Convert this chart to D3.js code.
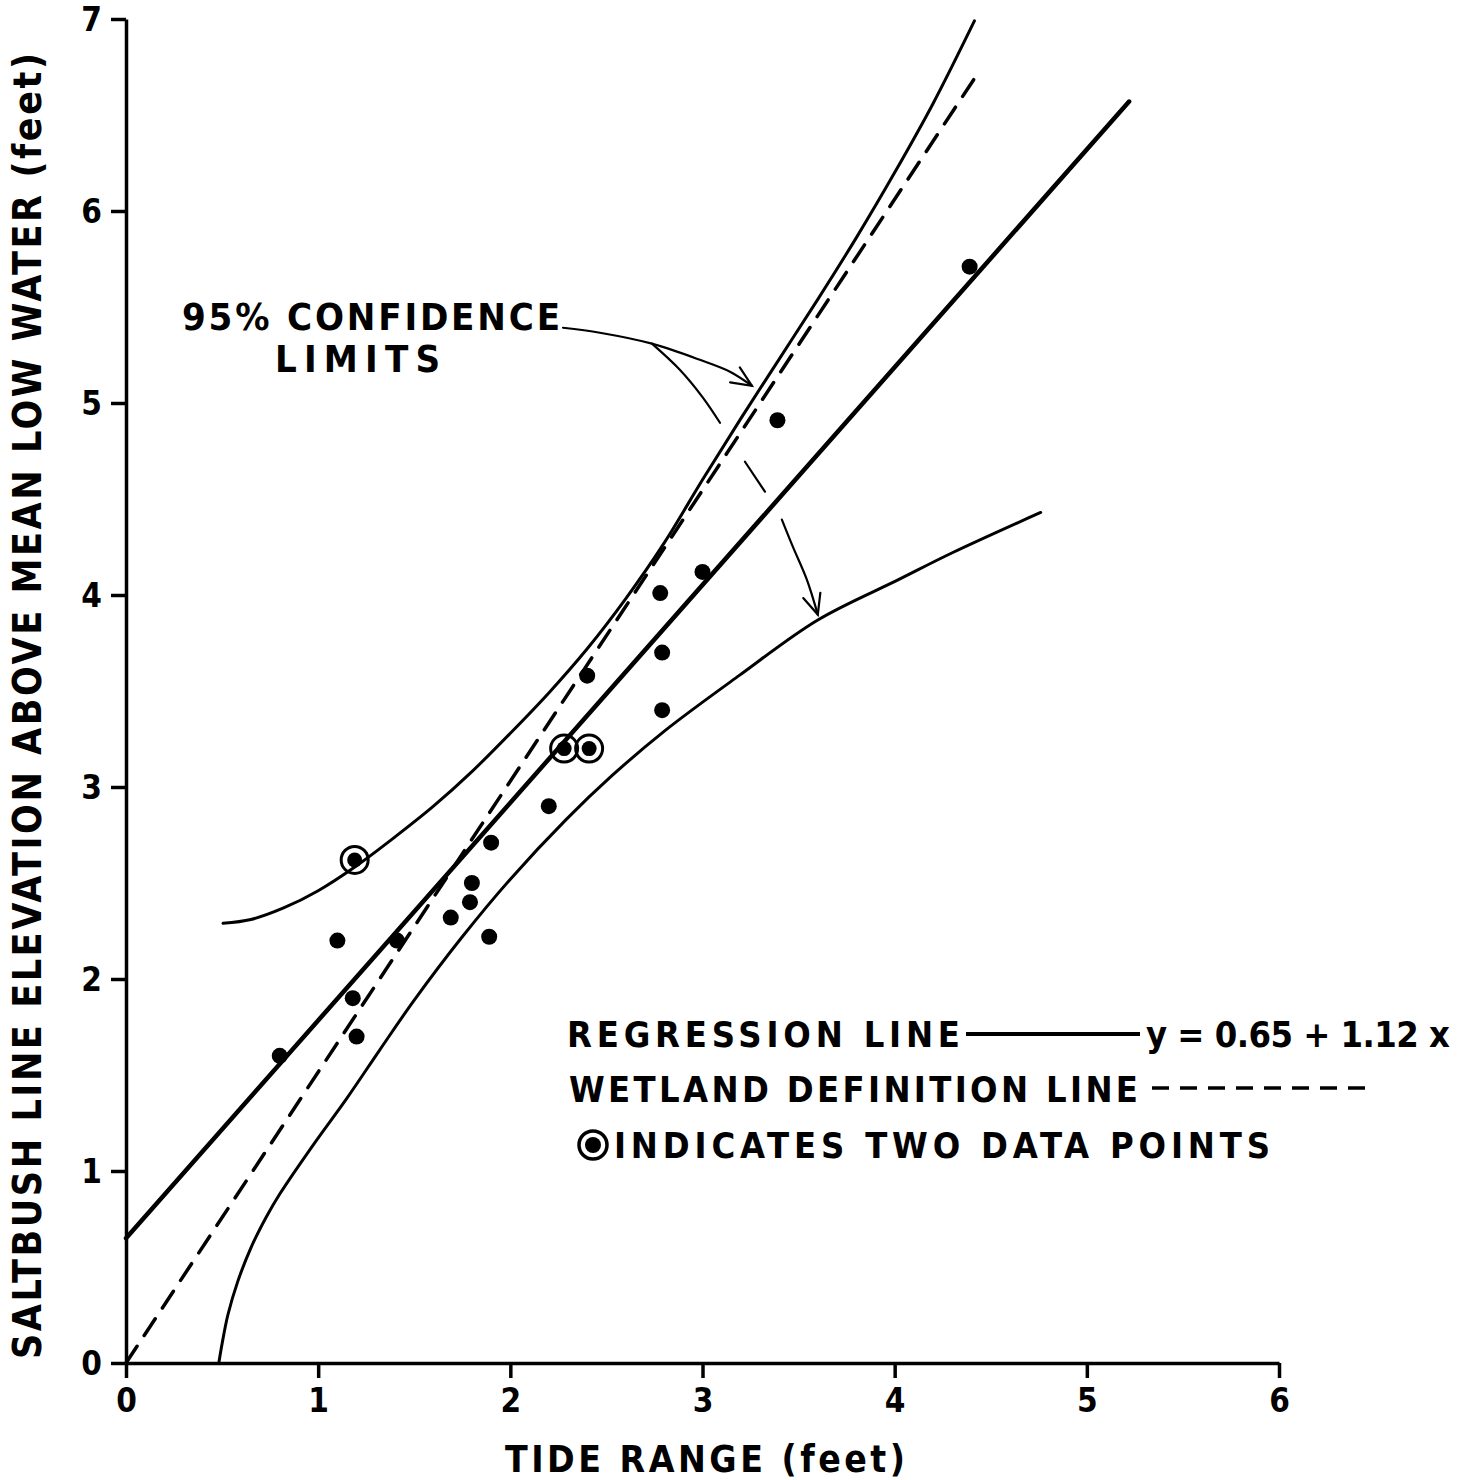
<!DOCTYPE html>
<html><head><meta charset="utf-8">
<script src="https://cdn.jsdelivr.net/npm/d3@7"></script>
<style>body{margin:0;background:#fff}svg{display:block}</style>
</head><body><svg id="c" width="1475" height="1480"></svg>
<script>
// ---- data ----
const tideRange = [0.80, 1.10, 1.18, 1.20, 1.19, 1.41, 1.69, 1.79, 1.80, 1.89, 1.90, 2.20, 2.28, 2.41, 2.40, 2.78, 2.79, 2.79, 3.00, 3.39, 4.39];
const elevation = [1.60, 2.20, 1.90, 1.70, 2.62, 2.20, 2.32, 2.40, 2.50, 2.22, 2.71, 2.90, 3.20, 3.20, 3.58, 4.01, 3.70, 3.40, 4.12, 4.91, 5.71];
const twoPoints = [false, false, false, false, true, false, false, false, false, false, false, false, true, true, false, false, false, false, false, false, false];
const regressionX = [0, 5.22];
const regressionY = [0.65, 6.57];
const wetlandX = [0, 4.415];
const wetlandY = [0, 6.69];
const upperX = [0.505, 0.65, 0.82, 1.00, 1.20, 1.40, 1.60, 1.80, 2.00, 2.20, 2.40, 2.60, 2.80, 3.00, 3.20, 3.40, 3.60, 3.80, 4.00, 4.20, 4.415];
const upperY = [2.29, 2.31, 2.37, 2.46, 2.59, 2.74, 2.90, 3.08, 3.28, 3.49, 3.72, 3.98, 4.27, 4.60, 4.92, 5.23, 5.54, 5.86, 6.20, 6.56, 6.99];
const lowerX = [0.483, 0.50, 0.53, 0.58, 0.65, 0.73, 0.80, 0.97, 1.15, 1.32, 1.50, 1.75, 2.00, 2.29, 2.53, 2.80, 3.19, 3.60, 4.02, 4.30, 4.76];
const lowerY = [0.00, 0.10, 0.25, 0.42, 0.60, 0.76, 0.88, 1.13, 1.38, 1.63, 1.89, 2.22, 2.52, 2.83, 3.06, 3.29, 3.58, 3.87, 4.08, 4.22, 4.43];
const xTicks = [0, 1, 2, 3, 4, 5, 6];
const yTicks = [0, 1, 2, 3, 4, 5, 6, 7];
const xTitle = "TIDE RANGE (feet)";
const yTitle = "SALTBUSH LINE ELEVATION ABOVE MEAN LOW WATER (feet)";
// annotation arrows (data units)
const arrowMainX = [2.274, 2.466, 2.737, 2.986, 3.143, 3.257];
const arrowMainY = [5.392, 5.366, 5.309, 5.225, 5.163, 5.090];
const arrowBranchX = [2.737, 2.882, 3.002, 3.091];
const arrowBranchY = [5.309, 5.173, 5.028, 4.897];
const arrowSegX = [3.221, 3.325];
const arrowSegY = [4.694, 4.538];
const arrowEndX = [3.413, 3.470, 3.543, 3.600];
const arrowEndY = [4.393, 4.252, 4.080, 3.898];

// ---- drawing ----
const FONT = "'DejaVu Sans Condensed','DejaVu Sans',sans-serif";
const svg = d3.select("#c");
svg.append("rect").attr("width",1475).attr("height",1480).attr("fill","#fff");
const x = d3.scaleLinear().domain([0,6]).range([126,1279]);
const y = d3.scaleLinear().domain([0,7]).range([1363,19]);
const zip = (a,b)=>a.map((v,i)=>[v,b[i]]);
const line = d3.line().x(d=>x(d[0])).y(d=>y(d[1]));
const smooth = d3.line().x(d=>x(d[0])).y(d=>y(d[1])).curve(d3.curveCatmullRom.alpha(0.5));

// axes
const gx = svg.append("g").attr("transform",`translate(0,${y(0)})`)
  .call(d3.axisBottom(x).tickValues(xTicks).tickSize(15).tickSizeOuter(0).tickPadding(11).tickFormat(d3.format("d")));
const gy = svg.append("g").attr("transform",`translate(${x(0)},0)`)
  .call(d3.axisLeft(y).tickValues(yTicks).tickSize(15).tickSizeOuter(0).tickPadding(9).tickFormat(d3.format("d")));
[gx,gy].forEach(g=>{
  g.selectAll("path.domain").attr("stroke","#000").attr("stroke-width",3.5);
  g.selectAll(".tick line").attr("stroke","#000").attr("stroke-width",3.5);
  g.selectAll(".tick text").attr("fill","#000").attr("font-family",FONT).attr("font-weight","bold").attr("font-size",33);
});
gy.selectAll(".tick text").attr("dy","0.36em");

// axis titles
svg.append("text").attr("x",505).attr("y",1472).attr("font-family",FONT).attr("font-weight","bold")
  .attr("font-size",37).attr("textLength",400).attr("lengthAdjust","spacing").text(xTitle);
svg.append("text").attr("transform","translate(41,706) rotate(-90)").attr("text-anchor","middle")
  .attr("font-family",FONT).attr("font-weight","bold").attr("font-size",39)
  .attr("textLength",1306).attr("lengthAdjust","spacing").text(yTitle);

// curves
const plot = svg.append("g").attr("fill","none").attr("stroke","#000").attr("stroke-linecap","round");
plot.append("path").attr("d",smooth(zip(upperX,upperY))).attr("stroke-width",3);
plot.append("path").attr("d",smooth(zip(lowerX,lowerY))).attr("stroke-width",3);
plot.append("path").attr("d",line(zip(wetlandX,wetlandY))).attr("stroke-width",3.5).attr("stroke-dasharray","20,13");
plot.append("path").attr("d",line(zip(regressionX,regressionY))).attr("stroke-width",4.5);

// annotation arrows
const ann = svg.append("g").attr("fill","none").attr("stroke","#000").attr("stroke-width",2.2).attr("stroke-linecap","round");
ann.append("path").attr("d",smooth(zip(arrowMainX,arrowMainY)));
ann.append("path").attr("d",smooth(zip(arrowBranchX,arrowBranchY)));
ann.append("path").attr("d",line(zip(arrowSegX,arrowSegY)));
ann.append("path").attr("d",smooth(zip(arrowEndX,arrowEndY)));
function head(tx,ty,px,py){ // tip and previous point in data units
  const X=x(tx),Y=y(ty),a=Math.atan2(Y-y(py),X-x(px)),L=22,s=0.42;
  const p1=[X-L*Math.cos(a-s),Y-L*Math.sin(a-s)],p2=[X-L*Math.cos(a+s),Y-L*Math.sin(a+s)];
  ann.append("path").attr("d",`M${p1}L${X},${Y}L${p2}`);
}
head(arrowMainX[5],arrowMainY[5],arrowMainX[4],arrowMainY[4]);
head(arrowEndX[3],arrowEndY[3],arrowEndX[2],arrowEndY[2]);

// annotation label
const lab = svg.append("g").attr("font-family",FONT).attr("font-weight","bold").attr("font-size",38).attr("fill","#000");
lab.append("text").attr("x",182).attr("y",330).attr("textLength",378).attr("lengthAdjust","spacing").text("95% CONFIDENCE");
lab.append("text").attr("x",275).attr("y",372).attr("textLength",165).attr("lengthAdjust","spacing").text("LIMITS");

// points
const pts = tideRange.map((v,i)=>({x:v,y:elevation[i],two:twoPoints[i]}));
svg.append("g").selectAll("circle.ring").data(pts.filter(d=>d.two)).join("circle")
  .attr("cx",d=>x(d.x)).attr("cy",d=>y(d.y)).attr("r",13.5).attr("fill","none")
  .attr("stroke","#000").attr("stroke-width",3);
svg.append("g").selectAll("circle").data(pts).join("circle")
  .attr("cx",d=>x(d.x)).attr("cy",d=>y(d.y)).attr("r",d=>d.two?7.5:8).attr("fill","#000");

// legend
const lg = svg.append("g").attr("font-family",FONT).attr("font-weight","bold").attr("font-size",36).attr("fill","#000");
lg.append("text").attr("x",567).attr("y",1047).attr("textLength",393).attr("lengthAdjust","spacing").text("REGRESSION LINE");
lg.append("line").attr("x1",966).attr("x2",1140).attr("y1",1034).attr("y2",1034).attr("stroke","#000").attr("stroke-width",4);
lg.append("text").attr("x",1146).attr("y",1047).attr("textLength",304).attr("lengthAdjust","spacing").text("y = 0.65 + 1.12 x");
lg.append("text").attr("x",569).attr("y",1102).attr("textLength",569).attr("lengthAdjust","spacing").text("WETLAND DEFINITION LINE");
lg.append("line").attr("x1",1152).attr("x2",1376).attr("y1",1088).attr("y2",1088).attr("stroke","#000").attr("stroke-width",3.5).attr("stroke-dasharray","17,11");
lg.append("circle").attr("cx",593).attr("cy",1145).attr("r",14).attr("fill","none").attr("stroke","#000").attr("stroke-width",3.5);
lg.append("circle").attr("cx",593).attr("cy",1145).attr("r",8).attr("fill","#000");
lg.append("text").attr("x",614).attr("y",1158).attr("textLength",656).attr("lengthAdjust","spacing").text("INDICATES TWO DATA POINTS");
</script></body></html>
